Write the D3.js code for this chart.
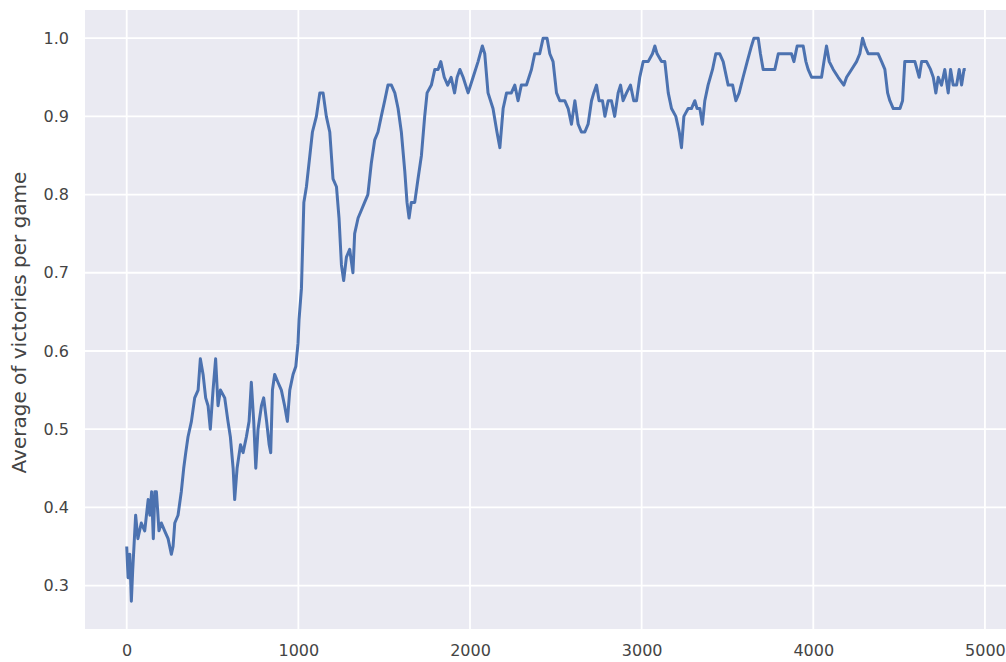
<!DOCTYPE html>
<html><head><meta charset="utf-8">
<script src="https://cdn.jsdelivr.net/npm/d3@7"></script>
<style>body{margin:0;background:#fff;}svg{display:block;}</style>
</head><body>
<svg id="chart" width="1006" height="662"></svg>
<script>
// Game index (x) and rolling average of victories (y)
const games = [0,8,18,27,35,52,65,85,105,125,135,145,155,164,173,188,202,221,241,260,270,280,299,318,332,344,357,377,396,416,429,445,460,474,487,503,518,532,546,571,590,604,620,629,643,663,678,697,713,726,740,752,765,785,798,815,830,839,849,862,881,901,920,936,950,969,985,998,1004,1018,1032,1047,1067,1082,1105,1125,1144,1163,1183,1202,1222,1237,1251,1264,1280,1299,1318,1328,1348,1367,1386,1405,1425,1445,1464,1483,1503,1522,1542,1562,1581,1600,1620,1633,1645,1658,1678,1697,1717,1736,1750,1775,1795,1814,1830,1850,1870,1890,1910,1925,1941,1960,1989,2018,2047,2072,2086,2105,2134,2157,2174,2193,2213,2241,2261,2280,2299,2329,2358,2377,2406,2426,2449,2465,2484,2504,2523,2552,2572,2591,2611,2630,2649,2669,2688,2708,2721,2737,2752,2772,2786,2805,2824,2843,2863,2877,2892,2912,2935,2954,2970,2989,3009,3038,3063,3077,3090,3116,3135,3155,3174,3199,3219,3232,3246,3271,3290,3310,3323,3339,3354,3368,3387,3413,3432,3455,3475,3504,3530,3549,3568,3591,3615,3640,3654,3679,3692,3708,3747,3776,3796,3834,3873,3887,3906,3941,3957,3970,3990,4019,4048,4062,4077,4093,4116,4145,4178,4194,4223,4252,4271,4287,4301,4320,4349,4378,4398,4417,4433,4446,4466,4505,4520,4533,4563,4592,4617,4631,4660,4683,4699,4714,4728,4747,4766,4786,4800,4815,4835,4850,4864,4878,4888];
const victories = [0.35,0.31,0.34,0.28,0.32,0.39,0.36,0.38,0.37,0.41,0.39,0.42,0.36,0.42,0.42,0.37,0.38,0.37,0.36,0.34,0.35,0.38,0.39,0.42,0.45,0.47,0.49,0.51,0.54,0.55,0.59,0.57,0.54,0.53,0.50,0.55,0.59,0.53,0.55,0.54,0.51,0.49,0.45,0.41,0.45,0.48,0.47,0.49,0.51,0.56,0.51,0.45,0.50,0.53,0.54,0.51,0.48,0.47,0.55,0.57,0.56,0.55,0.53,0.51,0.55,0.57,0.58,0.61,0.64,0.68,0.79,0.81,0.85,0.88,0.90,0.93,0.93,0.90,0.88,0.82,0.81,0.77,0.71,0.69,0.72,0.73,0.70,0.75,0.77,0.78,0.79,0.80,0.84,0.87,0.88,0.90,0.92,0.94,0.94,0.93,0.91,0.88,0.83,0.79,0.77,0.79,0.79,0.82,0.85,0.90,0.93,0.94,0.96,0.96,0.97,0.95,0.94,0.95,0.93,0.95,0.96,0.95,0.93,0.95,0.97,0.99,0.98,0.93,0.91,0.88,0.86,0.91,0.93,0.93,0.94,0.92,0.94,0.94,0.96,0.98,0.98,1.00,1.00,0.98,0.97,0.93,0.92,0.92,0.91,0.89,0.92,0.89,0.88,0.88,0.89,0.92,0.93,0.94,0.92,0.92,0.90,0.92,0.92,0.90,0.93,0.94,0.92,0.93,0.94,0.92,0.92,0.95,0.97,0.97,0.98,0.99,0.98,0.97,0.97,0.93,0.91,0.90,0.88,0.86,0.90,0.91,0.91,0.92,0.91,0.91,0.89,0.92,0.94,0.96,0.98,0.98,0.97,0.94,0.94,0.92,0.93,0.95,0.97,0.99,1.00,1.00,0.98,0.96,0.96,0.96,0.98,0.98,0.98,0.97,0.99,0.99,0.97,0.96,0.95,0.95,0.95,0.97,0.99,0.97,0.96,0.95,0.94,0.95,0.96,0.97,0.98,1.00,0.99,0.98,0.98,0.98,0.97,0.96,0.93,0.92,0.91,0.91,0.92,0.97,0.97,0.97,0.95,0.97,0.97,0.96,0.95,0.93,0.95,0.94,0.96,0.93,0.96,0.94,0.94,0.96,0.94,0.96,0.96];
const xTicks = [0,1000,2000,3000,4000,5000];
const yTicks = [0.3,0.4,0.5,0.6,0.7,0.8,0.9,1.0];
const yLabel = "Average of victories per game";

const FONT = "'DejaVu Sans', 'Liberation Sans', sans-serif";
const svg = d3.select("#chart");
const m = {left:85, top:10, right:1010, bottom:629};
const x = d3.scaleLinear().domain([-243,5146]).range([m.left, m.right]);
const y = d3.scaleLinear().domain([0.2445,1.036]).range([m.bottom, m.top]);

svg.append("rect").attr("x",m.left).attr("y",m.top)
  .attr("width",m.right-m.left).attr("height",m.bottom-m.top).attr("fill","#EAEAF2");

const g = svg.append("g");
g.selectAll(".gx").data(xTicks).join("line")
  .attr("x1",d=>x(d)).attr("x2",d=>x(d)).attr("y1",m.top).attr("y2",m.bottom)
  .attr("stroke","#fff").attr("stroke-width",1.8);
g.selectAll(".gy").data(yTicks).join("line")
  .attr("y1",d=>y(d)).attr("y2",d=>y(d)).attr("x1",m.left).attr("x2",m.right)
  .attr("stroke","#fff").attr("stroke-width",1.8);

const xAxis = svg.append("g").attr("transform",`translate(0,${m.bottom})`)
  .call(d3.axisBottom(x).tickValues(xTicks).tickFormat(d3.format("d")).tickSize(0).tickPadding(16));
const yAxis = svg.append("g").attr("transform",`translate(${m.left},0)`)
  .call(d3.axisLeft(y).tickValues(yTicks).tickFormat(d3.format(".1f")).tickSize(0).tickPadding(16));
[xAxis,yAxis].forEach(a=>{
  a.select(".domain").remove();
  a.selectAll("text").attr("font-family",FONT)
    .attr("font-size",16).attr("fill","#444");
});

const pts = games.map((d,i)=>[d,victories[i]]);
svg.append("path").datum(pts)
  .attr("d", d3.line().x(d=>x(d[0])).y(d=>y(d[1])))
  .attr("fill","none").attr("stroke","#4C72B0").attr("stroke-width",3)
  .attr("stroke-linejoin","round");

svg.append("text").attr("transform",`translate(26,${(m.top+m.bottom)/2 + 3}) rotate(-90)`)
  .attr("text-anchor","middle").attr("font-family",FONT)
  .attr("font-size",20).attr("fill","#444").text(yLabel);
</script>
</body></html>
